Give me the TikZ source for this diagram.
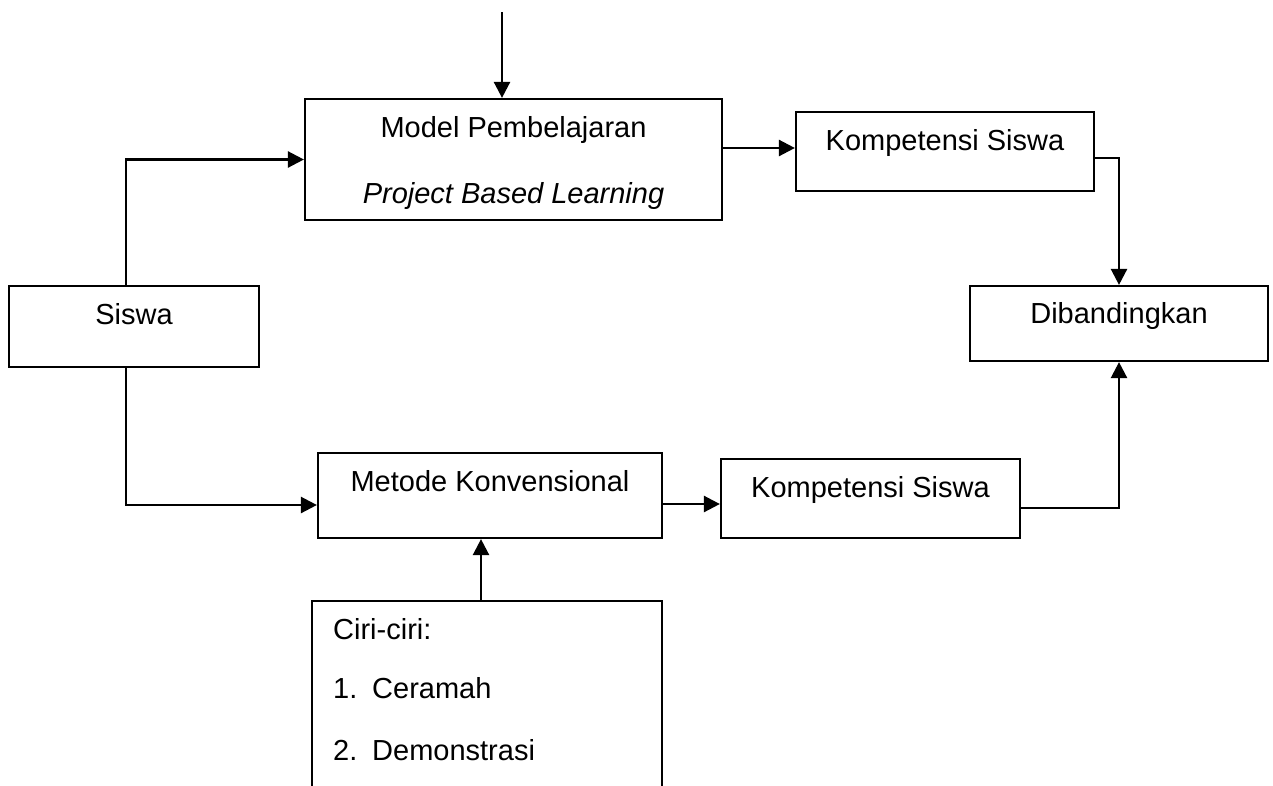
\documentclass[tikz,border=0pt]{standalone}
\usepackage{fontspec}
\setmainfont{Liberation Sans}
\usetikzlibrary{arrows.meta}
\tikzset{
  box/.style={draw=black, line width=2.2pt, rectangle, inner sep=0pt, fill=white},
  lbl/.style={inner sep=0pt, font=\fontsize{29}{35}\selectfont, anchor=base},
  lblw/.style={inner sep=0pt, font=\fontsize{29}{35}\selectfont, anchor=base west},
  arr/.style={draw=black, line width=2.5pt, -{Triangle[length=16pt,width=16pt]}},
  conn/.style={draw=black, line width=2.5pt}
}
\begin{document}
\begin{tikzpicture}[x=1pt,y=-1pt]
\useasboundingbox (0,0) rectangle (1273,785);
\clip (0,0) rectangle (1273,785);
\fill[white] (0,0) rectangle (1273,785);
% boxes
\node[box, minimum width=417pt, minimum height=121pt] (model) at (513.5,159.5) {};
\node[box, minimum width=298pt, minimum height=79pt] (komp1) at (945,151.5) {};
\node[box, minimum width=298pt, minimum height=75pt] (dib) at (1119,323.5) {};
\node[box, minimum width=250pt, minimum height=81pt] (siswa) at (134,326.5) {};
\node[box, minimum width=344pt, minimum height=85pt] (metode) at (490,495.5) {};
\node[box, minimum width=299pt, minimum height=79pt] (komp2) at (870.5,498.5) {};
\node[box, minimum width=350pt, minimum height=210pt] (ciri) at (487,706) {};
% texts
\node[lbl] (tmodel) at (513.5,137) {Model Pembelajaran};
\node[lbl] (tpbl) at (513.5,203) {\itshape Project Based Learning};
\node[lbl] (tkomp1) at (945,150) {Kompetensi Siswa};
\node[lbl] (tdib) at (1119,323) {Dibandingkan};
\node[lbl] (tsiswa) at (134,324) {Siswa};
\node[lbl] (tmetode) at (490,491) {Metode Konvensional};
\node[lbl] (tkomp2) at (870.5,497) {Kompetensi Siswa};
\node[lblw] (tciri) at (333,639) {Ciri-ciri:};
\node[lblw] (tn1) at (333,698) {1.};
\node[lblw] (tc1) at (372,698) {Ceramah};
\node[lblw] (tn2) at (333,760) {2.};
\node[lblw] (tc2) at (372,760) {Demonstrasi};
% connectors
\coordinate (topin) at (502,12);
\draw[arr] (topin) -- (topin |- model.north);
\draw[arr] ([xshift=-8pt]siswa.north) |- (model.west);
\draw[arr] ([xshift=-8pt]siswa.south) |- ([yshift=-9.5pt]metode.west);
\draw[arr] ([yshift=11.5pt]model.east) -- ([yshift=11.5pt]model.east -| komp1.west);
\draw[arr] ([yshift=-6.5pt]komp1.east) -| (dib.north);
\draw[arr] ([yshift=-8.5pt]metode.east) -- ([yshift=-8.5pt]metode.east -| komp2.west);
\draw[arr] ([yshift=-9.5pt]komp2.east) -| (dib.south);
\draw[arr] ([xshift=-6pt]ciri.north) -- ([xshift=-6pt]ciri.north |- metode.south);
\end{tikzpicture}
\end{document}
